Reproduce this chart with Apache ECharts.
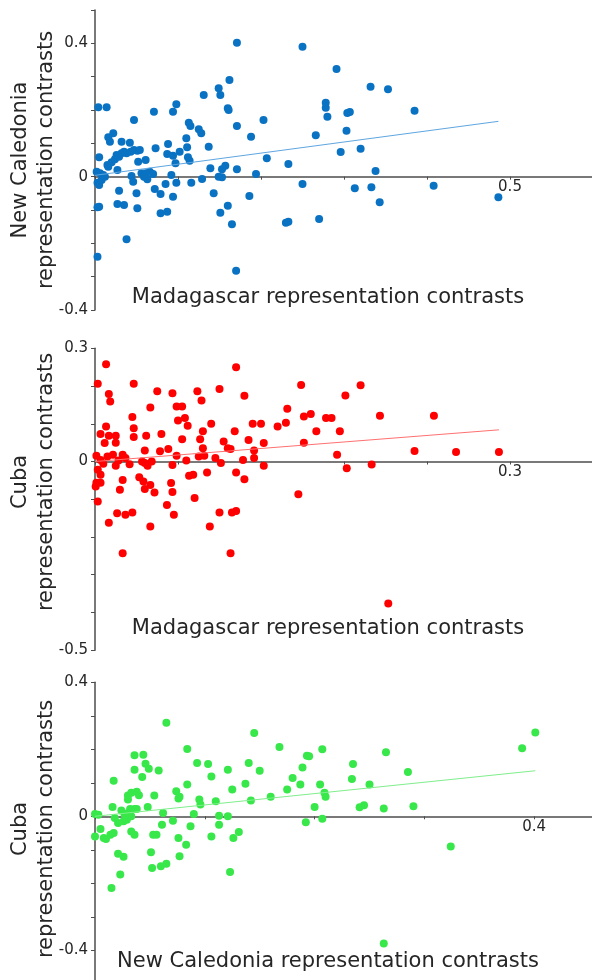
<!DOCTYPE html>
<html>
<head>
<meta charset="utf-8">
<script src="https://cdn.jsdelivr.net/npm/echarts@6/dist/echarts.min.js"></script>
<style>
html,body{margin:0;padding:0;background:#fff;}
#c{width:592px;height:980px;}
</style>
</head>
<body>
<div id="c"></div>
<script>
// ---- data: [x, y] pairs ----
const madagascarVsNewCaledonia = [
[0.003,-0.24],[0.004,0.208],[0.014,0.208],[0.005,0.058],[0.002,0.015],[0.006,0.01],[0.003,-0.018],[0.005,-0.025],[0.003,-0.092],[0.005,-0.09],[0.01,0.005],[0.008,-0.01],[0.012,0.0],
[0.016,0.118],[0.022,0.13],[0.018,0.105],[0.015,0.035],[0.016,0.03],[0.02,0.043],[0.024,0.052],[0.026,0.065],[0.027,0.02],[0.029,0.06],[0.032,0.07],[0.035,0.075],[0.038,0.07],[0.032,0.105],
[0.029,-0.042],[0.027,-0.082],[0.035,-0.085],[0.038,-0.188],[0.047,0.17],[0.042,0.102],[0.043,0.075],[0.047,0.08],[0.051,0.078],[0.054,0.08],[0.044,0.002],[0.046,-0.015],[0.05,-0.05],[0.051,-0.095],
[0.052,0.045],[0.056,0.01],[0.059,0.0],[0.061,0.01],[0.063,-0.008],[0.066,0.015],[0.07,0.008],[0.061,0.05],[0.071,0.195],[0.073,0.085],[0.072,-0.037],[0.079,-0.052],[0.079,-0.11],[0.087,-0.105],
[0.085,-0.022],[0.088,0.098],[0.087,0.068],[0.092,0.005],[0.094,-0.06],[0.094,0.063],[0.097,0.04],[0.094,0.195],[0.098,0.217],[0.102,0.075],[0.098,-0.018],[0.11,0.115],[0.111,0.088],[0.113,0.162],
[0.115,0.152],[0.112,0.058],[0.114,0.048],[0.116,-0.018],[0.125,0.142],[0.128,0.13],[0.131,0.245],[0.129,-0.007],[0.137,0.09],[0.139,0.025],[0.143,-0.05],[0.149,0.265],[0.151,0.245],[0.162,0.29],
[0.16,0.205],[0.161,0.2],[0.149,0.0],[0.153,-0.002],[0.153,0.022],[0.157,0.033],[0.151,-0.108],[0.16,-0.087],[0.165,-0.143],[0.171,0.402],[0.171,0.152],[0.171,0.022],[0.17,-0.282],[0.186,-0.058],
[0.188,0.12],[0.194,0.008],[0.203,0.17],[0.207,0.055],[0.23,-0.138],[0.233,-0.135],[0.233,0.038],
[0.25,0.39],[0.25,-0.022],[0.27,-0.127],[0.266,0.124],[0.278,0.222],[0.278,0.207],[0.28,0.18],[0.291,0.323],[0.296,0.074],[0.303,0.138],[0.304,0.191],[0.307,0.194],[0.313,-0.035],[0.32,0.084],
[0.332,0.27],[0.333,-0.032],[0.338,0.017],[0.343,-0.077],[0.353,0.262],[0.385,0.198],[0.408,-0.027],[0.486,-0.062]
];
const madagascarVsCuba = [
[0.008,0.258],[0.002,0.206],[0.010,0.179],[0.011,0.159],[0.028,0.206],[0.008,0.093],[0.004,0.073],[0.007,0.049],[0.010,0.068],[0.015,0.068],[0.015,0.05],[0.001,0.015],[0.004,0.004],[0.006,-0.006],
[0.002,-0.022],[0.004,-0.035],[0.001,-0.056],[0.004,-0.056],[0.0005,-0.066],[0.002,-0.106],[0.009,0.013],[0.013,0.018],[0.015,-0.011],[0.017,0.003],[0.020,0.018],[0.022,0.009],[0.025,-0.007],
[0.020,-0.049],[0.018,-0.075],[0.010,-0.162],[0.016,-0.137],[0.022,-0.141],[0.027,-0.135],[0.020,-0.243],[0.027,0.118],[0.028,0.088],[0.028,0.065],[0.037,0.068],[0.036,0.029],[0.034,0.0],
[0.036,-0.004],[0.038,-0.011],[0.041,0.0],[0.032,-0.042],[0.035,-0.053],[0.036,-0.073],[0.040,-0.062],[0.043,-0.082],[0.040,-0.172],[0.040,0.143],[0.045,0.186],[0.048,0.073],[0.047,0.027],
[0.053,0.033],[0.052,-0.115],[0.056,0.181],[0.059,0.146],[0.063,0.146],[0.060,0.109],[0.065,0.115],[0.067,0.095],[0.063,0.059],[0.056,-0.009],[0.059,0.015],[0.055,-0.057],[0.056,-0.081],
[0.057,-0.141],[0.066,0.003],[0.068,-0.038],[0.071,-0.035],[0.072,-0.097],[0.074,0.186],[0.077,0.162],[0.078,0.08],[0.076,0.059],[0.078,0.035],[0.075,0.013],[0.079,0.015],[0.081,-0.029],
[0.083,-0.172],[0.084,0.1],[0.090,0.192],[0.087,0.009],[0.091,-0.004],[0.090,-0.135],[0.093,0.053],[0.096,0.035],[0.098,0.033],[0.102,0.25],[0.101,0.08],[0.102,-0.029],[0.099,-0.135],
[0.102,-0.131],[0.098,-0.243],[0.108,0.174],[0.111,0.057],[0.107,0.004],[0.108,-0.047],[0.114,0.1],[0.115,0.029],[0.115,0.009],[0.120,0.1],[0.122,0.049],[0.122,-0.011],[0.132,0.093],
[0.138,0.103],[0.139,0.14],[0.149,0.203],[0.147,-0.087],
[0.151,0.119],[0.156,0.126],[0.16,0.08],[0.151,0.05],[0.181,0.175],[0.192,0.202],[0.167,0.115],[0.171,0.115],[0.177,0.08],[0.175,0.018],[0.182,-0.018],[0.2,-0.008],[0.206,0.121],
[0.231,0.028],[0.245,0.121],[0.261,0.025],[0.292,0.025],[0.212,-0.376]
];
const newCaledoniaVsCuba = [
[0.0,0.007],[0.003,0.005],[0.005,-0.038],[0.0,-0.06],[0.008,-0.065],[0.01,-0.068],[0.014,-0.055],[0.017,-0.05],[0.015,-0.214],[0.017,0.106],[0.016,0.028],[0.018,-0.005],[0.021,-0.02],
[0.021,-0.112],[0.026,-0.121],[0.023,-0.174],[0.024,0.017],[0.026,-0.015],[0.027,0.005],[0.029,-0.01],[0.03,0.01],[0.032,0.022],[0.033,0.0],[0.036,0.022],[0.038,0.022],
[0.03,0.05],[0.03,0.062],[0.033,0.07],[0.036,0.182],[0.044,0.184],[0.036,0.139],[0.038,0.073],[0.04,0.063],[0.033,-0.045],[0.036,-0.055],[0.043,0.117],[0.046,0.157],[0.049,0.142],
[0.048,0.028],[0.051,-0.107],[0.053,-0.055],[0.056,-0.055],[0.054,0.062],[0.052,-0.154],[0.058,0.137],[0.06,-0.149],[0.065,-0.142],[0.061,-0.025],[0.062,0.01],[0.065,0.279],[0.071,-0.013],
[0.074,0.075],[0.076,0.053],[0.077,0.058],[0.076,-0.065],[0.077,-0.119],[0.083,-0.085],[0.084,0.201],[0.084,0.095],[0.087,-0.03],[0.09,0.007],[0.093,0.159],[0.095,0.05],[0.096,0.035],
[0.103,0.156],[0.106,-0.06],[0.106,0.119],[0.11,0.045],[0.113,0.002],[0.121,0.0],[0.113,-0.025],[0.121,0.139],[0.123,-0.166],[0.125,0.08],[0.126,-0.065],[0.131,-0.047],[0.137,0.097],
[0.14,0.159],[0.142,0.047],[0.145,0.249],[0.15,0.136],[0.16,0.058],[0.168,0.207],[0.175,0.08],[0.18,0.114],[0.187,0.095],[0.189,0.146],[0.193,0.181],[0.195,0.179],[0.207,0.2],[0.205,0.095],
[0.209,0.07],[0.21,0.058],[0.2,0.028],[0.207,-0.007],[0.192,-0.018],
[0.235,0.156],[0.234,0.111],[0.25,0.095],[0.241,0.027],[0.245,0.033],[0.265,0.191],[0.263,0.023],[0.285,0.132],[0.29,0.03],[0.324,-0.09],[0.263,-0.38],[0.389,0.203],[0.401,0.25]
];
// regression line end points
const fitLine1 = [[0.0, 0.004], [0.486, 0.166]];
const fitLine2 = [[0.0, 0.0], [0.292, 0.084]];
const fitLine3 = [[0.0, 0.0], [0.401, 0.136]];
// labelled tick values
const xTickLabels = [[0.5], [0.3], [0.4]];
const yTickLabels = [[0.4, 0, -0.4], [0.3, 0, -0.5], [0.4, 0, -0.4]];
// axis titles
const xTitles = ['Madagascar representation contrasts', 'Madagascar representation contrasts', 'New Caledonia representation contrasts'];
const yTitles = ['New Caledonia\nrepresentation contrasts', 'Cuba\nrepresentation contrasts', 'Cuba\nrepresentation contrasts'];

const FONT = '"DejaVu Sans", sans-serif';
const AX = '#4d4d4d';
const TXT = '#262626';

const grids = [
  {left: 95, top: 10, width: 498, height: 300, outerBoundsMode: 'none', containLabel: false},
  {left: 95, top: 348.3, width: 498, height: 301.9, outerBoundsMode: 'none', containLabel: false},
  {left: 95, top: 682.3, width: 549, height: 301.5, outerBoundsMode: 'none', containLabel: false}
];
const xRanges = [[0, 0.6, 0.1], [0, 0.36, 0.06], [0, 0.5, 0.1]];
const yRanges = [[-0.4, 0.5], [-0.5, 0.3], [-0.5, 0.4]];
const dotColors = ['#0a72c2', '#ff0000', '#38e84a'];
const lineColors = ['#5ea6e0', '#ff7070', '#80ee8c'];

function pick(list) {
  return function (v) {
    for (const t of list) if (Math.abs(v - t) < 1e-6) return String(t);
    return '';
  };
}

const xAxis = [], yAxis = [], series = [], graphic = [];
const scatterData = [madagascarVsNewCaledonia, madagascarVsCuba, newCaledoniaVsCuba];
const fitData = [fitLine1, fitLine2, fitLine3];
const titleX = [328, 328, 328];
const titleXY = [298, 629, 962];
const titleYY = [160, 482, 829];

for (let i = 0; i < 3; i++) {
  // move the x axis up to y = 0 (axes cross at the origin)
  const zeroOffset = -(0 - yRanges[i][0]) / (yRanges[i][1] - yRanges[i][0]) * grids[i].height;
  xAxis.push({
    type: 'value', gridIndex: i, min: xRanges[i][0], max: xRanges[i][1], interval: xRanges[i][2],
    position: 'bottom', offset: zeroOffset,
    axisLine: {show: true, onZero: false, lineStyle: {color: AX, width: 1.5}},
    axisTick: {show: true, length: 3, inside: false, lineStyle: {color: AX, width: 1}},
    splitLine: {show: false},
    axisLabel: {formatter: pick(xTickLabels[i]), fontSize: 15, fontFamily: FONT, color: TXT, margin: 3, hideOverlap: false}
  });
  yAxis.push({
    type: 'value', gridIndex: i, min: yRanges[i][0], max: yRanges[i][1], interval: 0.1,
    axisLine: {show: true, onZero: false, lineStyle: {color: AX, width: 1.5}},
    axisTick: {show: true, length: 4, inside: false, lineStyle: {color: AX, width: 1}},
    splitLine: {show: false},
    axisLabel: {formatter: pick(yTickLabels[i]), fontSize: 15, fontFamily: FONT, color: TXT, margin: 7, hideOverlap: false}
  });
  series.push({
    type: 'scatter', xAxisIndex: i, yAxisIndex: i, data: scatterData[i],
    symbol: 'circle', symbolSize: 8, itemStyle: {color: dotColors[i], opacity: 1},
    z: 2, silent: true
  });
  series.push({
    type: 'line', xAxisIndex: i, yAxisIndex: i, data: fitData[i],
    showSymbol: false, symbol: 'none', lineStyle: {color: lineColors[i], width: 1},
    z: 3, silent: true
  });
  graphic.push({
    type: 'text', x: titleX[i], y: titleXY[i], z: 10,
    style: {text: xTitles[i], fontSize: 21, fontFamily: FONT, fill: TXT,
      align: 'center', verticalAlign: 'middle', textAlign: 'center', textVerticalAlign: 'middle'}
  });
  graphic.push({
    type: 'text', x: 34, y: titleYY[i], rotation: Math.PI / 2, z: 10,
    style: {text: yTitles[i], fontSize: 21, lineHeight: 26, fontFamily: FONT, fill: TXT,
      align: 'center', verticalAlign: 'middle', textAlign: 'center', textVerticalAlign: 'middle'}
  });
}

const chart = echarts.init(document.getElementById('c'), null, {renderer: 'canvas'});
chart.setOption({
  animation: false,
  backgroundColor: '#ffffff',
  grid: grids,
  xAxis: xAxis,
  yAxis: yAxis,
  series: series,
  graphic: graphic
});
</script>
</body>
</html>
